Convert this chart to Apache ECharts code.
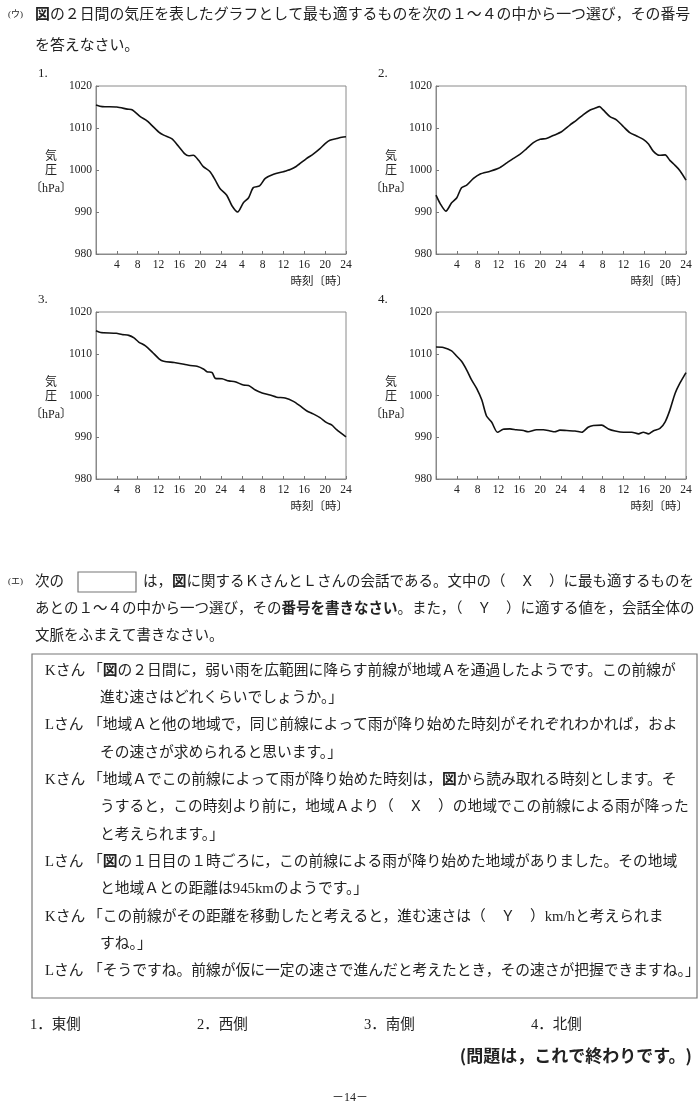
<!DOCTYPE html>
<html><head><meta charset="utf-8">
<script src="https://cdn.jsdelivr.net/npm/echarts@6/dist/echarts.min.js"></script>
<style>html,body{margin:0;padding:0;background:#fff}#c{width:700px;height:1117px}</style>
</head><body><div id="c"></div>
<script>
// ---- data ----
const chartTitles = ['1.', '2.', '3.', '4.'];
const xTickLabels = ['', '4', '8', '12', '16', '20', '24', '4', '8', '12', '16', '20', '24'];
const yRange = [980, 1020];
const yName = ['気', '圧', '〔hPa〕'];
const xName = '時刻〔時〕';

const pressure1 = [[0,1015.5],[1.2,1015.1],[4,1015.0],[6,1014.5],[7,1014.3],[8.5,1012.7],[9.8,1011.7],[12,1009.1],[13,1008.3],[14.6,1007.4],[15.8,1005.7],[17,1003.9],[17.8,1003.4],[18.7,1003.5],[19.7,1002.3],[20.6,1000.8],[21.9,999.6],[22.9,997.6],[23.8,995.6],[25.1,994.0],[26.1,991.5],[27.2,990.0],[28.3,992.2],[29.3,993.4],[30.2,995.8],[31.4,996.2],[32.5,998.0],[34.1,999.0],[36,999.6],[37.3,1000.1],[38.5,1000.9],[40.4,1002.7],[41.7,1003.8],[43,1005.1],[44,1006.3],[44.9,1007.1],[46.2,1007.5],[47.2,1007.8],[48,1007.9]];
const pressure2 = [[0,994.0],[0.8,992.0],[1.9,990.2],[3,992.2],[4,993.4],[4.9,995.8],[5.9,996.4],[7.2,998.0],[8.4,999.0],[10.4,999.7],[12,1000.4],[13.6,1001.7],[14.8,1002.7],[16.1,1003.7],[17.4,1005.1],[18.7,1006.5],[20,1007.3],[21.2,1007.5],[22.5,1008.2],[24.1,1009.1],[25.7,1010.7],[27,1011.9],[28.3,1013.2],[29.6,1014.3],[30.5,1014.7],[31.4,1015.1],[32.1,1014.3],[33.4,1012.7],[34.7,1011.9],[36,1010.3],[37.2,1008.9],[38.5,1008.1],[39.8,1007.3],[40.8,1006.2],[41.7,1004.5],[42.9,1003.5],[44,1003.6],[44.9,1002.3],[45.9,1001.1],[46.8,999.9],[48,997.6]];
const pressure3 = [[0,1015.5],[0.9,1015.1],[3.9,1014.9],[5,1014.6],[6.3,1014.4],[7.3,1013.8],[8.2,1012.8],[9.5,1011.9],[10.8,1010.4],[12.1,1008.8],[13,1008.2],[15,1007.9],[16.9,1007.5],[18.1,1007.2],[19.4,1007.0],[20.7,1006.3],[21.3,1005.7],[22.3,1005.5],[22.9,1004.1],[24.2,1004.0],[25.5,1003.5],[26.7,1003.3],[28.3,1002.5],[29.3,1002.4],[30.6,1001.3],[31.9,1000.6],[33.4,1000.1],[34.7,999.6],[36.3,999.4],[37.9,998.6],[39.2,997.5],[40.5,996.3],[41.7,995.6],[43,994.7],[44.3,993.5],[45.3,992.9],[46.2,991.8],[48,990.1]];
const pressure4 = [[0,1011.6],[1.4,1011.5],[3,1010.7],[4,1009.4],[4.9,1008.2],[5.9,1006.1],[6.8,1003.8],[7.8,1001.7],[8.8,998.9],[9.7,995.1],[10.7,993.6],[11.8,991.2],[12.9,991.9],[14.2,992.0],[15.4,991.8],[16.8,991.6],[17.7,991.3],[19.3,991.8],[20.6,991.8],[21.9,991.5],[22.8,991.3],[23.8,991.7],[25.1,991.6],[26.7,991.5],[28,991.2],[29.2,992.4],[30.2,992.8],[31.8,992.9],[33.1,992.0],[34.4,991.5],[36,991.2],[37.6,991.2],[38.9,990.8],[39.8,991.2],[40.8,990.8],[41.7,991.5],[43,992.1],[44,993.7],[44.9,996.5],[45.9,1000.5],[46.8,1002.9],[48,1005.5]];
const pressureSeries = [pressure1, pressure2, pressure3, pressure4];

const choices = ['1．東側', '2．西側', '3．南側', '4．北側'];

// ---- layout ----
const grids = [
  {left: 96, top: 86, width: 250, height: 168},
  {left: 436, top: 86, width: 250, height: 168},
  {left: 96, top: 312, width: 250, height: 167},
  {left: 436, top: 312, width: 250, height: 167}
];
const SERIF = '"Liberation Serif","DejaVu Serif","Noto Sans CJK JP",serif';
const BODY = '"Liberation Serif","Noto Sans CJK JP",serif';
const INK = '#222';
const FS = 14.5;
const DFS = 14.75;

const option = {
  animation: false,
  backgroundColor: '#fff',
  grid: grids.map(g => Object.assign({show: true, borderColor: '#8a8a8a', borderWidth: 1, containLabel: false}, g)),
  xAxis: grids.map((g, i) => ({
    type: 'value', gridIndex: i, min: 0, max: 48, interval: 4,
    axisLine: {show: true, lineStyle: {color: '#8a8a8a', width: 1}},
    axisTick: {show: true, inside: true, length: 3, lineStyle: {color: '#777'}},
    splitLine: {show: false},
    axisLabel: {color: INK, fontFamily: SERIF, fontSize: 11.5, margin: 5,
      formatter: v => xTickLabels[Math.round(v / 4)] || ''}
  })),
  yAxis: grids.map((g, i) => ({
    type: 'value', gridIndex: i, min: yRange[0], max: yRange[1], interval: 10,
    axisLine: {show: true, lineStyle: {color: '#8a8a8a', width: 1}},
    axisTick: {show: true, inside: true, length: 3, lineStyle: {color: '#777'}},
    splitLine: {show: false},
    axisLabel: {color: INK, fontFamily: SERIF, fontSize: 11.5, margin: 4,
      formatter: v => String(v)}
  })),
  series: pressureSeries.map((d, i) => ({
    type: 'line', xAxisIndex: i, yAxisIndex: i, data: d,
    showSymbol: false, smooth: 0.25,
    lineStyle: {color: '#111', width: 1.6}
  })),
  graphic: []
};

const G = option.graphic;
function txt(x, y, text, o) {
  o = o || {};
  const size = o.size || FS;
  const rich = o.rich ? {b: {fontWeight: 'bold', fontSize: size, fontFamily: BODY, fill: INK}} : null;
  G.push({type: 'text', x: x, y: y, silent: true,
    style: Object.assign({text: text, fill: INK, font: (o.weight || 'normal') + ' ' + size + 'px ' + (o.family || BODY),
      textAlign: o.align || 'left', textVerticalAlign: 'middle'}, rich ? {rich: rich} : {})});
}

// (ウ)
txt(8, 15, '(ウ)', {size: 9});
txt(35, 15, '{b|図}の２日間の気圧を表したグラフとして最も適するものを次の１～４の中から一つ選び，その番号', {rich: true, size: 14.9});
txt(35, 46, 'を答えなさい。', {size: 14.9});

// chart labels
grids.forEach((g, i) => {
  txt(g.left - 58, g.top - 12, chartTitles[i], {size: 13, family: SERIF});
  const cx = g.left - 45;
  txt(cx, g.top + 71, yName[0], {size: 12, align: 'center'});
  txt(cx, g.top + 85, yName[1], {size: 12, align: 'center'});
  txt(cx, g.top + 103, yName[2], {size: 12, align: 'center'});
  txt(g.left + g.width + 2, g.top + g.height + 28, xName, {size: 11.5, align: 'right'});
});

// (エ)
const eY = 582;
txt(8, eY, '(エ)', {size: 9});
txt(35, eY, '次の');
G.push({type: 'rect', silent: true, shape: {x: 78, y: eY - 10, width: 58, height: 20},
  style: {fill: '#fff', stroke: '#777', lineWidth: 1.2}});
txt(143, eY, 'は，{b|図}に関するＫさんとＬさんの会話である。文中の（　Ｘ　）に最も適するものを', {rich: true});
txt(35, eY + 27, 'あとの１～４の中から一つ選び，その{b|番号を書きなさい}。また，（　Ｙ　）に適する値を，会話全体の', {rich: true});
txt(35, eY + 54, '文脈をふまえて書きなさい。');

// dialogue box
G.push({type: 'rect', silent: true, shape: {x: 32, y: 654, width: 665, height: 344},
  style: {fill: 'none', stroke: '#777', lineWidth: 1.2}});
const dialog = [
  ['Kさん', '「{b|図}の２日間に，弱い雨を広範囲に降らす前線が地域Ａを通過したようです。この前線が'],
  ['', '進む速さはどれくらいでしょうか。」'],
  ['Lさん', '「地域Ａと他の地域で，同じ前線によって雨が降り始めた時刻がそれぞれわかれば，およ'],
  ['', 'その速さが求められると思います。」'],
  ['Kさん', '「地域Ａでこの前線によって雨が降り始めた時刻は，{b|図}から読み取れる時刻とします。そ'],
  ['', 'うすると，この時刻より前に，地域Ａより（　Ｘ　）の地域でこの前線による雨が降った'],
  ['', 'と考えられます。」'],
  ['Lさん', '「{b|図}の１日目の１時ごろに，この前線による雨が降り始めた地域がありました。その地域'],
  ['', 'と地域Ａとの距離は945kmのようです。」'],
  ['Kさん', '「この前線がその距離を移動したと考えると，進む速さは（　Ｙ　）km/hと考えられま'],
  ['', 'すね。」'],
  ['Lさん', '「そうですね。前線が仮に一定の速さで進んだと考えたとき，その速さが把握できますね。」']
];
dialog.forEach((d, i) => {
  const y = 671 + i * 27.3;
  if (d[0]) {
    txt(45, y, d[0], {size: DFS});
    txt(88, y, d[1], {rich: true, size: DFS});
  } else {
    txt(100, y, d[1], {rich: true, size: DFS});
  }
});

// choices
choices.forEach((c, i) => txt(30 + i * 167, 1025, c));
txt(692, 1056, '(問題は，これで終わりです。)', {size: 17, weight: 'bold', family: '"Noto Sans CJK JP",sans-serif', align: 'right'});
txt(350, 1098, '－14－', {size: 12, align: 'center'});

const chart = echarts.init(document.getElementById('c'), null, {renderer: 'canvas'});
chart.setOption(option);
</script></body></html>
